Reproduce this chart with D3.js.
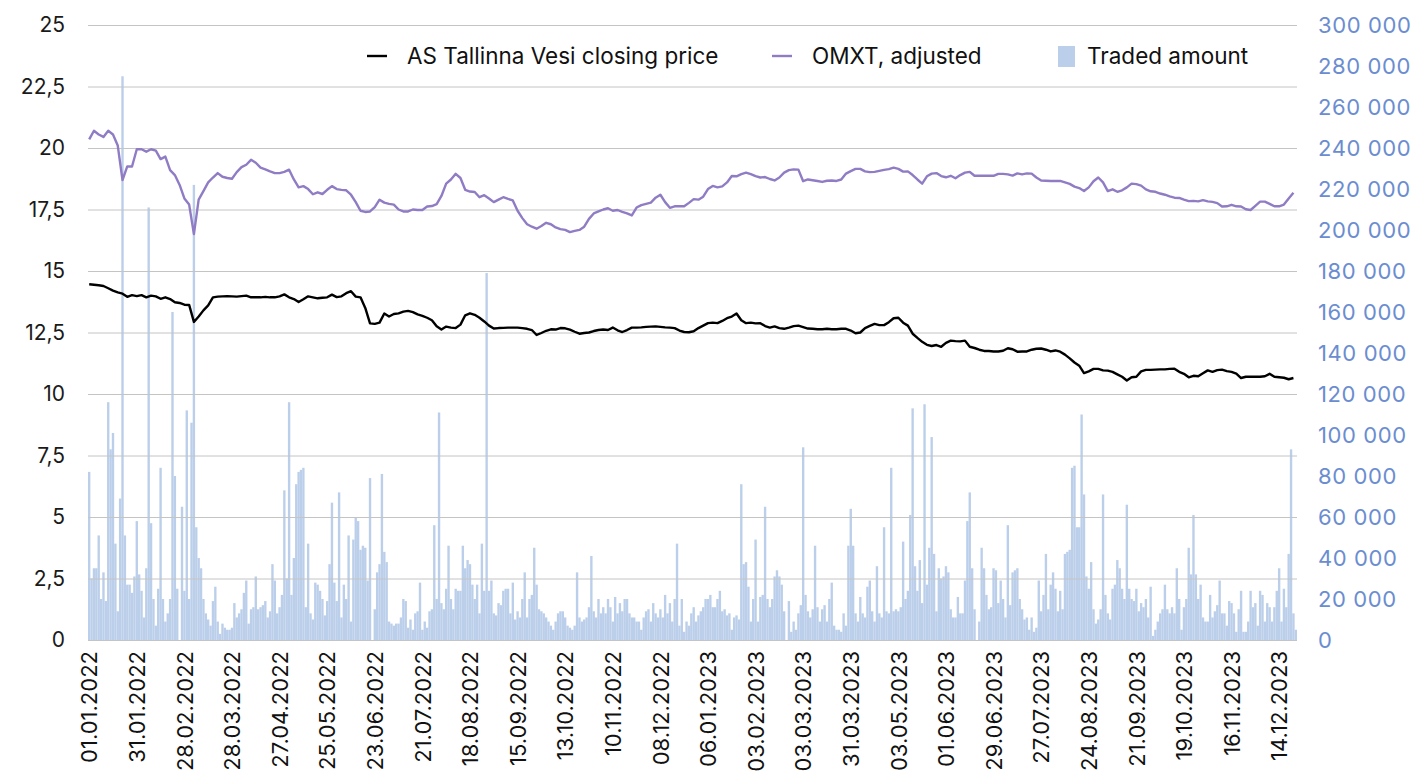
<!DOCTYPE html>
<html>
<head>
<meta charset="utf-8">
<script src="https://cdn.jsdelivr.net/npm/d3@7"></script>
<style>
  body { margin: 0; background: #fff; }
  svg { display: block; font-family: Inter, "Liberation Sans", sans-serif; }
</style>
</head>
<body>
<script>
// x axis labels, one every 20 trading days
const tickLabels = [
  "01.01.2022", "31.01.2022", "28.02.2022", "28.03.2022", "27.04.2022", "25.05.2022",
  "23.06.2022", "21.07.2022", "18.08.2022", "15.09.2022", "13.10.2022", "10.11.2022",
  "08.12.2022", "06.01.2023", "03.02.2023", "03.03.2023", "31.03.2023", "03.05.2023",
  "01.06.2023", "29.06.2023", "27.07.2023", "24.08.2023", "21.09.2023", "19.10.2023",
  "16.11.2023", "14.12.2023"
];
const leftTicks = [0, 2.5, 5, 7.5, 10, 12.5, 15, 17.5, 20, 22.5, 25];
const rightTicks = d3.range(0, 301, 20); // thousands

// AS Tallinna Vesi closing price, every 2nd trading day (row = 20 trading days)
const closingPrice = [
  14.46, 14.44, 14.42, 14.39, 14.3, 14.2, 14.13, 14.08, 13.95, 14.02,
  13.98, 14.02, 13.93, 14.0, 13.97, 13.87, 13.93, 13.86, 13.73, 13.7,
  13.63, 13.62, 12.93, 13.15, 13.4, 13.6, 13.93, 13.96, 13.97, 13.98,
  13.97, 13.96, 13.98, 14.0, 13.93, 13.93, 13.93, 13.95, 13.93, 13.93,
  13.97, 14.05, 13.93, 13.86, 13.74, 13.85, 13.97, 13.93, 13.89, 13.91,
  13.93, 14.04, 13.94, 13.97, 14.1, 14.18, 13.96, 13.93, 13.5, 12.87,
  12.85, 12.9, 13.27, 13.15, 13.25, 13.28, 13.35, 13.38, 13.33, 13.24,
  13.18, 13.1, 13.0, 12.75, 12.62, 12.74, 12.7, 12.68, 12.82, 13.2,
  13.28, 13.22, 13.1, 12.95, 12.78, 12.66, 12.68, 12.69, 12.7, 12.7,
  12.7, 12.68, 12.65, 12.6, 12.4, 12.48, 12.57, 12.63, 12.62, 12.68,
  12.67, 12.62, 12.53, 12.45, 12.48, 12.5, 12.56, 12.6, 12.62, 12.6,
  12.7, 12.59, 12.52, 12.6, 12.7, 12.7, 12.71, 12.73, 12.74, 12.75,
  12.73, 12.71, 12.7, 12.68, 12.58, 12.52, 12.51, 12.55, 12.68, 12.78,
  12.88, 12.9, 12.88, 12.97, 13.08, 13.15, 13.27, 13.0, 12.88, 12.9,
  12.87, 12.88, 12.76, 12.7, 12.75, 12.68, 12.65, 12.7, 12.76, 12.78,
  12.72, 12.66, 12.65, 12.63, 12.63, 12.65, 12.63, 12.63, 12.65, 12.65,
  12.58, 12.47, 12.5, 12.68, 12.77, 12.85, 12.8, 12.8, 12.92, 13.08,
  13.1, 12.9, 12.78, 12.45, 12.28, 12.12, 12.0, 11.95, 11.99, 11.92,
  12.08, 12.17, 12.15, 12.14, 12.17, 11.92, 11.87, 11.8, 11.75, 11.75,
  11.73, 11.73, 11.76, 11.86, 11.82, 11.72, 11.73, 11.73, 11.8, 11.84,
  11.85, 11.8, 11.73, 11.77, 11.72, 11.6, 11.45, 11.28, 11.15, 10.85,
  10.92, 11.02, 11.02, 10.96, 10.95, 10.9, 10.8, 10.7, 10.55, 10.68,
  10.7, 10.92, 10.98, 10.98, 10.99, 11.0, 11.0, 11.02, 11.03, 10.9,
  10.82, 10.68, 10.74, 10.72, 10.84, 10.96, 10.9, 10.97, 10.99, 10.93,
  10.9, 10.83, 10.65, 10.7, 10.7, 10.7, 10.7, 10.72, 10.82, 10.7,
  10.68, 10.66, 10.6, 10.65
];

// OMXT adjusted, every 2nd trading day
const omxtAdjusted = [
  20.35, 20.7, 20.55, 20.45, 20.7, 20.55, 20.1, 18.7, 19.25, 19.25,
  19.95, 19.95, 19.85, 19.95, 19.89, 19.55, 19.65, 19.1, 18.9, 18.5,
  17.95, 17.7, 16.5, 17.9, 18.25, 18.6, 18.8, 18.98, 18.83, 18.78,
  18.75, 19.02, 19.22, 19.32, 19.52, 19.4, 19.2, 19.13, 19.05, 18.98,
  18.98, 19.03, 19.12, 18.72, 18.4, 18.45, 18.33, 18.12, 18.2, 18.13,
  18.3, 18.45, 18.33, 18.3, 18.28, 18.1, 17.8, 17.45, 17.4, 17.42,
  17.6, 17.9, 17.78, 17.73, 17.7, 17.5, 17.42, 17.42, 17.5, 17.48,
  17.48, 17.62, 17.64, 17.72, 18.05, 18.55, 18.72, 18.95, 18.78, 18.3,
  18.23, 18.21, 18.0, 18.08, 17.95, 17.8, 17.9, 18.0, 17.93, 17.87,
  17.45, 17.15, 16.9, 16.8, 16.72, 16.83, 16.96, 16.9, 16.77, 16.7,
  16.67, 16.58, 16.63, 16.67, 16.8, 17.12, 17.34, 17.42, 17.5, 17.55,
  17.45, 17.48, 17.4, 17.34, 17.26, 17.58, 17.68, 17.73, 17.78, 17.98,
  18.1, 17.8, 17.57, 17.63, 17.63, 17.63, 17.77, 17.92, 17.9, 18.02,
  18.33, 18.46, 18.4, 18.44, 18.6, 18.86, 18.85, 18.94, 19.0, 18.94,
  18.86, 18.8, 18.82, 18.74, 18.68, 18.8, 19.0, 19.1, 19.13, 19.12,
  18.65, 18.72, 18.69, 18.66, 18.62, 18.67, 18.68, 18.66, 18.72, 18.96,
  19.06, 19.15, 19.15, 19.05, 19.02, 19.03, 19.07, 19.11, 19.14, 19.2,
  19.15, 19.04, 19.05, 18.9, 18.72, 18.55, 18.85, 18.96, 18.98, 18.86,
  18.81, 18.87, 18.77, 18.9, 19.0, 19.03, 18.87, 18.87, 18.87, 18.87,
  18.87, 18.95, 18.95, 18.93, 18.88, 18.97, 18.93, 18.97, 18.96, 18.8,
  18.68, 18.67, 18.66, 18.66, 18.66, 18.6, 18.54, 18.43, 18.37, 18.25,
  18.4, 18.65, 18.8, 18.6, 18.25, 18.32, 18.22, 18.28, 18.4, 18.55,
  18.53, 18.47, 18.32, 18.24, 18.22, 18.15, 18.1, 18.03, 17.98, 17.97,
  17.9, 17.84, 17.85, 17.83, 17.88, 17.83, 17.81, 17.76, 17.62, 17.63,
  17.69, 17.63, 17.62, 17.51, 17.48, 17.65, 17.82, 17.82, 17.73, 17.63,
  17.63, 17.7, 17.95, 18.18
];

// traded amount per trading day, thousands
const tradedAmount = [
  82, 30, 35, 35, 51, 20, 33, 19, 116, 93,
  101, 47, 14, 69, 275, 51, 27, 27, 23, 31,
  58, 32, 24, 11, 35, 211, 57, 20, 7, 25,
  84, 20, 9, 13, 20, 160, 80, 25, 0, 65,
  24, 112, 20, 106, 222, 55, 40, 35, 20, 13,
  10, 7, 19, 26, 9, 3, 8, 6, 5, 5,
  6, 18, 11, 13, 15, 23, 29, 8, 15, 16,
  31, 15, 16, 17, 19, 11, 14, 37, 29, 13,
  16, 22, 73, 30, 116, 22, 40, 76, 82, 83,
  84, 16, 47, 13, 10, 28, 27, 24, 20, 12,
  19, 37, 67, 28, 19, 72, 11, 27, 20, 51,
  9, 49, 60, 58, 44, 46, 45, 29, 79, 0,
  15, 33, 37, 81, 43, 38, 9, 8, 7, 8,
  8, 11, 20, 19, 6, 10, 5, 13, 14, 28,
  5, 9, 6, 14, 15, 56, 20, 111, 18, 15,
  25, 46, 20, 15, 25, 24, 24, 46, 35, 39,
  37, 27, 20, 27, 13, 47, 24, 179, 24, 29,
  13, 12, 18, 17, 24, 25, 25, 13, 28, 10,
  14, 11, 20, 33, 11, 20, 22, 45, 27, 15,
  14, 13, 11, 9, 7, 5, 9, 13, 14, 14,
  11, 7, 6, 5, 7, 33, 11, 9, 10, 11,
  16, 41, 14, 11, 20, 13, 16, 13, 20, 16,
  9, 21, 13, 18, 14, 20, 20, 13, 11, 11,
  9, 9, 5, 11, 14, 15, 9, 18, 13, 11,
  15, 11, 22, 13, 18, 9, 20, 47, 7, 20,
  4, 9, 7, 13, 16, 9, 12, 14, 16, 20,
  20, 22, 16, 16, 20, 24, 14, 15, 12, 13,
  5, 11, 12, 10, 76, 37, 38, 26, 9, 20,
  49, 9, 21, 22, 65, 20, 16, 20, 31, 34,
  31, 27, 14, 0, 19, 4, 9, 5, 13, 17,
  94, 22, 14, 11, 15, 46, 16, 9, 15, 17,
  9, 20, 28, 7, 5, 5, 4, 13, 7, 46,
  64, 46, 13, 9, 21, 13, 11, 26, 29, 14,
  9, 36, 13, 11, 55, 14, 13, 84, 14, 15,
  14, 16, 48, 20, 24, 61, 113, 36, 24, 39,
  18, 115, 27, 45, 99, 42, 14, 35, 30, 31,
  36, 33, 15, 11, 11, 21, 13, 13, 29, 58,
  72, 35, 15, 0, 9, 45, 35, 22, 15, 16,
  35, 34, 18, 29, 20, 11, 56, 17, 33, 34,
  35, 20, 15, 10, 11, 5, 11, 4, 6, 29,
  14, 22, 42, 15, 27, 33, 25, 14, 24, 15,
  42, 43, 44, 84, 85, 55, 55, 110, 71, 31,
  25, 38, 15, 8, 10, 15, 71, 22, 13, 10,
  25, 27, 39, 35, 25, 20, 66, 25, 20, 19,
  25, 14, 18, 16, 20, 11, 26, 2, 5, 9,
  13, 15, 27, 15, 13, 16, 13, 35, 20, 5,
  16, 20, 45, 32, 61, 32, 20, 27, 11, 9,
  9, 22, 11, 14, 17, 29, 13, 13, 7, 19,
  18, 13, 4, 15, 24, 4, 4, 9, 24, 16,
  18, 7, 24, 22, 9, 18, 16, 9, 16, 24,
  35, 9, 25, 16, 42, 93, 13, 5
];

const legendNames = ["AS Tallinna Vesi closing price", "OMXT, adjusted", "Traded amount"];

var width = 1421,
  height = 773;
var plotLeft = 88,
  plotRight = 1297,
  plotTop = 25,
  plotBottom = 640;

var svg = d3
  .select("body")
  .append("svg")
  .attr("width", width)
  .attr("height", height);

var n = tradedAmount.length;
var x = d3
  .scaleLinear()
  .domain([-0.5, n - 0.5])
  .range([plotLeft, plotRight]);
var step = x(1) - x(0);
var yLeft = d3.scaleLinear().domain([0, 25]).range([plotBottom, plotTop]);
var yRight = d3.scaleLinear().domain([0, 300]).range([plotBottom, plotTop]);

var loc = d3.formatLocale({ decimal: ",", thousands: "\u00a0", grouping: [3], currency: ["", ""] });
var fmtLeft = v => (Number.isInteger(v) ? String(v) : loc.format(".1f")(v));
var fmtRight = loc.format(",");

//bars
svg
  .append("g")
  .attr("class", "bars")
  .selectAll("rect")
  .data(tradedAmount)
  .enter()
  .append("rect")
  .attr("x", (d, i) => x(i) - step / 2)
  .attr("width", step)
  .attr("y", d => yRight(d))
  .attr("height", d => plotBottom - yRight(d))
  .attr("fill", "#bccfea");

//grid
svg
  .append("g")
  .attr("class", "grid")
  .attr("transform", `translate(${plotLeft},0)`)
  .call(d3.axisLeft(yLeft).tickValues(leftTicks).tickSize(-(plotRight - plotLeft)).tickFormat(""))
  .call(g => g.select(".domain").remove())
  .call(g => g.selectAll("line").attr("stroke", "#c4c4c4").attr("stroke-width", 1));

//lines
var line = d3
  .line()
  .x((d, i) => x(i * 2))
  .y(d => yLeft(d));

svg
  .append("path")
  .datum(omxtAdjusted)
  .attr("d", line)
  .attr("fill", "none")
  .attr("stroke", "#8f7cc4")
  .attr("stroke-width", 2.4)
  .attr("stroke-linejoin", "round");

svg
  .append("path")
  .datum(closingPrice)
  .attr("d", line)
  .attr("fill", "none")
  .attr("stroke", "#000")
  .attr("stroke-width", 2.4)
  .attr("stroke-linejoin", "round");

//axes
svg
  .append("g")
  .attr("transform", `translate(${plotLeft},0)`)
  .call(d3.axisLeft(yLeft).tickValues(leftTicks).tickSize(0).tickPadding(23).tickFormat(fmtLeft))
  .call(g => g.select(".domain").remove())
  .call(g =>
    g.selectAll("text").attr("fill", "#1a1a1a").style("font-size", "21px").style("font-family", "Inter")
  );

svg
  .append("g")
  .attr("transform", `translate(${plotRight},0)`)
  .call(d3.axisRight(yRight).tickValues(rightTicks).tickSize(0).tickPadding(21).tickFormat(v => fmtRight(v * 1000)))
  .call(g => g.select(".domain").remove())
  .call(g =>
    g
      .selectAll("text")
      .attr("fill", "#6b8dd0")
      .style("font-size", "22px")
      .style("letter-spacing", "0.6px")
      .style("font-family", "Inter")
  );

svg
  .append("g")
  .attr("transform", `translate(0,${plotBottom})`)
  .call(
    d3
      .axisBottom(x)
      .tickValues(tickLabels.map((d, i) => i * 20))
      .tickSize(0)
      .tickFormat((d, i) => tickLabels[i])
  )
  .call(g => g.select(".domain").remove())
  .call(g =>
    g
      .selectAll("text")
      .attr("transform", "rotate(-90)")
      .attr("x", -11)
      .attr("y", 0)
      .attr("dy", "0.35em")
      .style("text-anchor", "end")
      .style("font-size", "22px")
      .style("font-family", "Inter")
      .attr("fill", "#111")
  );

//legend
var legend = svg.append("g").attr("class", "legend").style("font-size", "22.5px");
var legendX = [367, 772, 1058];
legend
  .selectAll("text")
  .data(legendNames)
  .enter()
  .append("text")
  .attr("x", (d, i) => legendX[i] + (i == 2 ? 29 : 40))
  .attr("y", 64)
  .attr("fill", "#111")
  .text(d => d);
legend
  .selectAll("line")
  .data(["#000", "#8f7cc4"])
  .enter()
  .append("line")
  .attr("x1", (d, i) => legendX[i])
  .attr("x2", (d, i) => legendX[i] + 20)
  .attr("y1", 56)
  .attr("y2", 56)
  .attr("stroke", d => d)
  .attr("stroke-width", 2.4);
legend
  .append("rect")
  .attr("x", legendX[2])
  .attr("y", 46)
  .attr("width", 17)
  .attr("height", 21)
  .attr("fill", "#bccfea");
</script>
</body>
</html>
